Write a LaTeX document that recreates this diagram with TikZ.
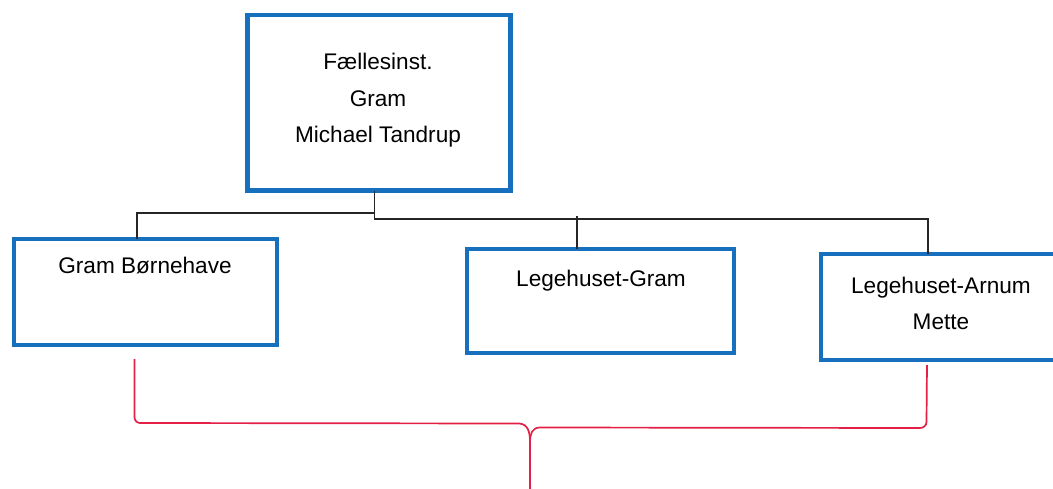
\documentclass[tikz,border=0pt]{standalone}
\usepackage{fontspec}
\setmainfont{Liberation Sans}
\definecolor{boxblue}{RGB}{22,112,190}
\definecolor{bracered}{RGB}{228,32,70}
\begin{document}
\begin{tikzpicture}[x=1pt,y=-1pt,
  box/.style={draw=boxblue,line width=4.2pt,rectangle,inner sep=0pt,outer sep=0pt,fill=white},
  txt/.style={anchor=base,inner sep=0pt,font=\fontsize{22.6}{27}\selectfont,text=black},
  conn/.style={draw=black!85,line width=1.5pt},
  brace/.style={draw=bracered,line width=1.7pt}]
\useasboundingbox (0,0) rectangle (1053,488);
\clip (0,0) rectangle (1053,488);
\fill[white] (0,0) rectangle (1053,488);

% boxes
\node[box,minimum width=263pt,minimum height=175.5pt] (top) at (379,102.75) {};
\node[box,minimum width=263.3pt,minimum height=106pt] (born) at (145.3,292.3) {};
\node[box,minimum width=267pt,minimum height=104pt] (lgram) at (600.5,301) {};
\node[box,minimum width=250pt,minimum height=106pt] (arnum) at (946,307) {};

% texts
\node[txt] (t1) at (378,69) {Fællesinst.};
\node[txt] (t2) at (378,106) {Gram};
\node[txt] (t3) at (378,142.5) {Michael Tandrup};
\node[txt] (t4) at (145,273) {Gram Børnehave};
\node[txt] (t5) at (601,286) {Legehuset-Gram};
\node[txt] (t6) at (941,293) {Legehuset-Arnum};
\node[txt] (t7) at (941,329.5) {Mette};

% connector taps
\coordinate (tt) at ([xshift=-4.7pt]top.south);
\coordinate (tb) at ([xshift=-8.5pt]born.north);
\coordinate (tg) at ([xshift=-23.5pt]lgram.north);
\coordinate (ta) at ([xshift=-18pt]arnum.north);

\draw[conn] (tt) -- ++(0,28.5) coordinate (jr) -| (ta);
\draw[conn] (tt) ++(0,22.5) -| (tb);
\draw[conn] (tg |- jr) ++(0,-3) -- (tg);

% red brace
\coordinate (bl) at (134.5,359);
\coordinate (br) at (927,365);
\coordinate (cusp) at (530,442);
\coordinate (bend) at (530,490);
\draw[brace] (bl) -- (134.5,417) to[out=-90,in=180] (140,423) -- (519,423.5)
  .. controls (528,424) and (530,432) .. (cusp) -- (bend);
\draw[brace] (br) -- (926.5,422) to[out=-90,in=0] (920,428) -- (540,427.5)
  .. controls (532,427.5) and (530,434) .. (cusp);
\end{tikzpicture}
\end{document}
